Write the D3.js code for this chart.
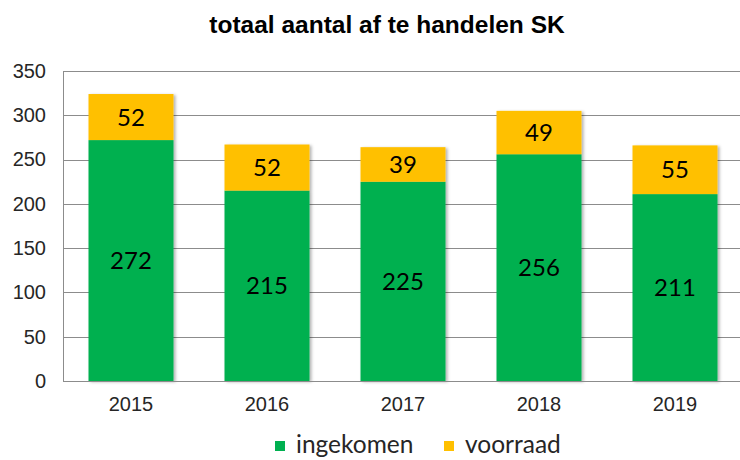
<!DOCTYPE html>
<html>
<head>
<meta charset="utf-8">
<script src="https://cdn.jsdelivr.net/npm/d3@7"></script>
<style>
  body { margin: 0; background: #fff; }
  svg { display: block; }
</style>
</head>
<body>
<div id="chart"></div>
<script>
const years = ["2015", "2016", "2017", "2018", "2019"];
const ingekomen = [272, 215, 225, 256, 211];
const voorraad = [52, 52, 39, 49, 55];
const yTicks = [0, 50, 100, 150, 200, 250, 300, 350];
const seriesNames = ["ingekomen", "voorraad"];
const seriesColors = ["#00B050", "#FFC000"];

const W = 740, H = 460;
const margin = { top: 71, right: 0, bottom: 79, left: 63 };
const innerW = W - margin.left - margin.right,
      innerH = H - margin.top - margin.bottom;

const svg = d3.select("#chart").append("svg")
    .attr("width", W)
    .attr("height", H);

// soft shadow like the office chart
const defs = svg.append("defs");
defs.append("filter")
    .attr("id", "shadow")
    .attr("x", "-10%").attr("y", "-10%")
    .attr("width", "130%").attr("height", "130%")
    .append("feDropShadow")
    .attr("dx", 2).attr("dy", 1)
    .attr("stdDeviation", 1.8)
    .attr("flood-color", "#000")
    .attr("flood-opacity", 0.3);

svg.append("text")
    .attr("x", 387)
    .attr("y", 33)
    .attr("text-anchor", "middle")
    .style("font-family", "Arial, 'Liberation Sans', sans-serif")
    .style("font-weight", "bold")
    .style("font-size", "24.5px")
    .style("fill", "#000")
    .text("totaal aantal af te handelen SK");

const g = svg.append("g")
    .attr("transform", `translate(${margin.left},${margin.top})`);

const x = d3.scaleBand()
    .domain(years)
    .range([0, innerW + 3])
    .paddingInner(0.375)
    .paddingOuter(0.1875);

const y = d3.scaleLinear()
    .domain([0, 350])
    .range([innerH, 0]);

// gridlines
g.append("g")
    .selectAll("line")
    .data(yTicks)
    .enter().append("line")
    .attr("x1", 0)
    .attr("x2", innerW)
    .attr("y1", d => Math.round(y(d)) + 0.5)
    .attr("y2", d => Math.round(y(d)) + 0.5)
    .attr("stroke", "#8c8c8c")
    .attr("stroke-width", 1);

// y axis
const yAxis = g.append("g")
    .call(d3.axisLeft(y).tickValues(yTicks).tickSize(0).tickPadding(17));
yAxis.select(".domain").attr("stroke", "#8c8c8c").attr("d", `M0.5,0V${innerH}`);
yAxis.selectAll("text")
    .style("font-family", "Arial, 'Liberation Sans', sans-serif")
    .style("font-size", "20px")
    .style("fill", "#262626");

const stackData = years.map((yr, i) => ({ year: yr, ingekomen: ingekomen[i], voorraad: voorraad[i] }));
const stacked = d3.stack().keys(seriesNames)(stackData);

const layers = g.append("g").attr("filter", "url(#shadow)");
layers.selectAll("g")
    .data(stacked)
    .enter().append("g")
    .attr("fill", (d, i) => seriesColors[i])
    .selectAll("rect")
    .data(d => d)
    .enter().append("rect")
    .attr("x", d => x(d.data.year))
    .attr("y", d => y(d[1]))
    .attr("width", x.bandwidth())
    .attr("height", d => y(d[0]) - y(d[1]));

// value labels
stacked.forEach(layer => {
    g.append("g")
        .selectAll("text")
        .data(layer)
        .enter().append("text")
        .attr("x", d => x(d.data.year) + x.bandwidth() / 2)
        .attr("y", d => (y(d[0]) + y(d[1])) / 2)
        .attr("dy", "0.36em")
        .attr("text-anchor", "middle")
        .style("font-family", "Lato, 'Open Sans', sans-serif")
        .style("font-size", "24px")
        .style("fill", "#000")
        .text(d => d[1] - d[0]);
});

// x axis
const xAxis = g.append("g")
    .attr("transform", `translate(0,${innerH})`)
    .call(d3.axisBottom(x).tickSize(0).tickPadding(16));
xAxis.select(".domain").attr("stroke", "#8c8c8c").attr("d", `M0,0.5H${innerW}`);
xAxis.selectAll("text")
    .style("font-family", "Arial, 'Liberation Sans', sans-serif")
    .style("font-size", "20px")
    .style("fill", "#262626");

// legend
const legendX = [275, 444];
const legend = svg.append("g")
    .selectAll("g")
    .data(seriesNames)
    .enter().append("g")
    .attr("transform", (d, i) => `translate(${legendX[i]},441)`);
legend.append("rect")
    .attr("width", 10)
    .attr("height", 10)
    .attr("fill", (d, i) => seriesColors[i]);
legend.append("text")
    .attr("x", 21)
    .attr("y", 12)
    .style("font-family", "Lato, 'Open Sans', sans-serif")
    .style("font-size", "24.5px")
    .style("fill", "#262626")
    .text(d => d);
</script>
</body>
</html>
